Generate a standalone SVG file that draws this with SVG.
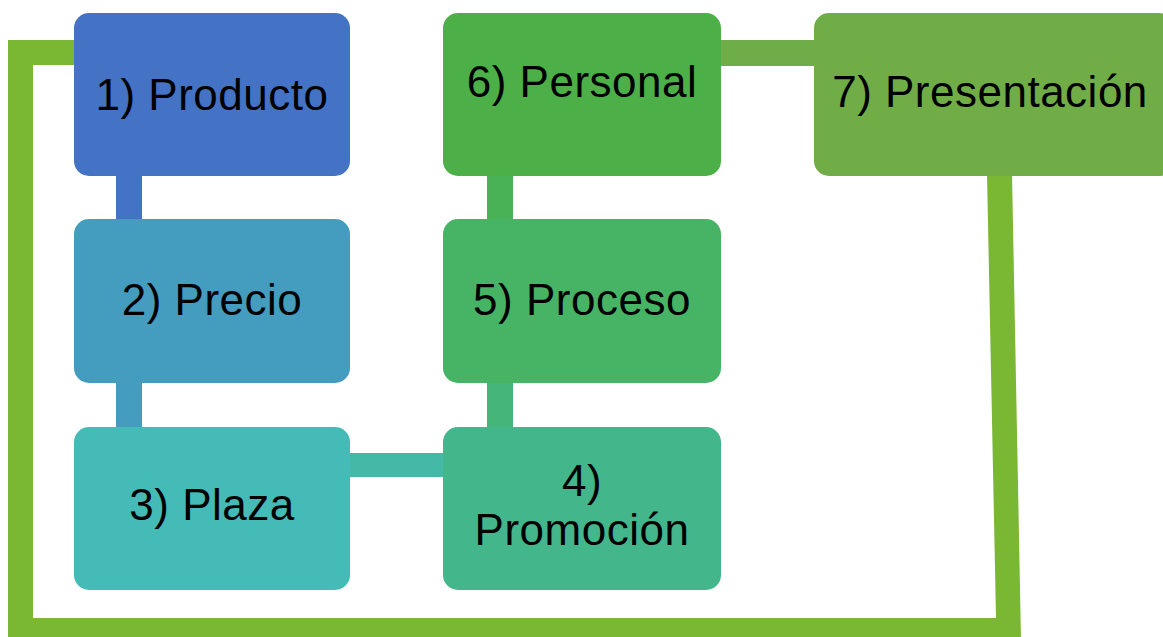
<svg xmlns="http://www.w3.org/2000/svg" width="1163" height="637" viewBox="0 0 1163 637">
<style>
.t{font-family:"Liberation Sans",Arial,sans-serif;font-size:44px;letter-spacing:0.5px;fill:#000;text-anchor:middle}
</style>
<rect width="1163" height="637" fill="#fff"/>
<g id="connectors">
<polygon points="76,40 8,40 8,640 1021,640 1012,174 987,174 996,618 33,618 33,65 76,65" fill="#7AB733"/>
<rect x="116" y="176" width="26" height="44" fill="#4472C4"/>
<rect x="116" y="382" width="26" height="46" fill="#449CBF"/>
<rect x="350" y="453" width="94" height="24" fill="#44B9A7"/>
<rect x="487" y="382" width="26" height="46" fill="#46B57A"/>
<rect x="487" y="176" width="26" height="44" fill="#49B156"/>
<rect x="721" y="40" width="94" height="26" fill="#6EAD47"/>
</g>
<g id="n1"><rect x="74" y="13" width="276" height="163" rx="15" fill="#4472C4"/><text class="t" x="212" y="110">1) Producto</text></g>
<g id="n2"><rect x="74" y="219" width="276" height="164" rx="15" fill="#449CBF"/><text class="t" x="212" y="315">2) Precio</text></g>
<g id="n3"><rect x="74" y="427" width="276" height="163" rx="15" fill="#44BBB7"/><text class="t" x="212" y="520">3) Plaza</text></g>
<g id="n4"><rect x="443" y="427" width="278" height="163" rx="15" fill="#44B68C"/><text class="t" x="582" y="496">4)</text><text class="t" x="582" y="545">Promoción</text></g>
<g id="n5"><rect x="443" y="219" width="278" height="164" rx="15" fill="#47B465"/><text class="t" x="582" y="315">5) Proceso</text></g>
<g id="n6"><rect x="443" y="13" width="278" height="163" rx="15" fill="#4CAF47"/><text class="t" x="582" y="97">6) Personal</text></g>
<g id="n7"><rect x="814" y="13" width="360" height="163" rx="15" fill="#70AD47"/><text class="t" x="990" y="107">7) Presentación</text></g>
</svg>
